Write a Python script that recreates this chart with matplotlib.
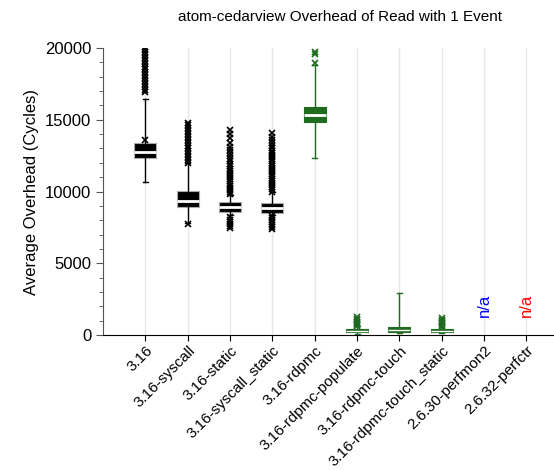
import matplotlib
matplotlib.use("Agg")
from matplotlib import pyplot as plt
from matplotlib.ticker import MultipleLocator

plt.rcParams['font.family'] = ['Liberation Sans', 'DejaVu Sans']

labels = ["3.16", "3.16-syscall", "3.16-static", "3.16-syscall_static",
          "3.16-rdpmc", "3.16-rdpmc-populate", "3.16-rdpmc-touch",
          "3.16-rdpmc-touch_static", "2.6.30-perfmon2", "2.6.32-perfctr"]

# box stats per kernel: whisker low, q1, median, q3, whisker high
whislo = [10680, 7830, 8360, 8360, 12310, 80, 150, 120]
q1 = [12360, 8940, 8600, 8520, 14820, 230, 240, 220]
med = [12770, 9360, 8940, 8870, 15330, 320, 380, 320]
q3 = [13360, 10060, 9250, 9200, 15870, 420, 540, 400]
whishi = [16420, 11960, 9760, 9940, 18820, 600, 2950, 550]

fliers = [
    [13590, 16900, 17100, 17300, 17500, 17700, 17900, 18100, 18300, 18500,
     18700, 18900, 19100, 19300, 19500, 19700, 19900, 20100],
    [7740, 12000, 12200, 12400, 12600, 12800, 13000, 13200, 13400, 13600,
     13800, 14000, 14200, 14400, 14600, 14750],
    [7430, 7600, 7750, 7900, 8050, 8200, 9800, 9950, 10100, 10250, 10400,
     10550, 10700, 10850, 11000, 11150, 11300, 11450, 11600, 11750, 11900,
     12100, 12300, 12500, 12700, 12900, 13100, 13400, 13700, 14000, 14290],
    [7390, 7550, 7700, 7850, 8000, 8150, 8300, 10000, 10150, 10300, 10450,
     10600, 10750, 10900, 11050, 11200, 11350, 11500, 11650, 11800, 11950,
     12100, 12250, 12400, 12550, 12700, 12850, 13000, 13200, 13400, 13600,
     13800, 14050],
    [18930, 19580, 19740],
    [620, 700, 780, 860, 940, 1020, 1100, 1230],
    [],
    [580, 660, 740, 820, 900, 980, 1060, 1160],
]

na_labels = ["2.6.30-perfmon2", "2.6.32-perfctr"]
na_colors = ["blue", "red"]

black = "black"
green = "#1f6b1f"
box_colors = [black] * 4 + [green] * 4
edge_colors = ["#aaaaaa"] * 4 + [green] * 4

fig = plt.figure(figsize=(5.54, 4.70), dpi=100)
ax = fig.add_axes([0.186, 0.287, 0.814, 0.611])

for i, c in enumerate(box_colors):
    stats = [dict(whislo=whislo[i], q1=q1[i], med=med[i], q3=q3[i],
                  whishi=whishi[i], fliers=fliers[i])]
    ax.bxp(stats, positions=[i], widths=0.52, patch_artist=True,
           boxprops=dict(facecolor=c, edgecolor=edge_colors[i], linewidth=0.8),
           medianprops=dict(color="white", linewidth=2 if i < 5 else 1),
           whiskerprops=dict(color=c, linewidth=1),
           capprops=dict(color=c, linewidth=1),
           capwidths=0.12,
           flierprops=dict(marker="x", markeredgecolor=c, markersize=5,
                           markeredgewidth=1.2),
           zorder=3)

for lab, col in zip(na_labels, na_colors):
    ax.text(labels.index(lab), 1250, "n/a", color=col, rotation=90,
            ha="center", va="bottom", fontsize=12)

ax.set_xlim(-1, 9.65)
ax.set_ylim(0, 20000)
ax.set_xticks(range(len(labels)))
ax.set_xticklabels(labels, rotation=45, ha="right", rotation_mode="anchor",
                   fontsize=11)
ax.yaxis.set_major_locator(MultipleLocator(5000))
ax.yaxis.set_minor_locator(MultipleLocator(1000))
ax.tick_params(axis="y", labelsize=12, length=5, color="#555555")
ax.tick_params(axis="y", which="minor", length=3, color="#555555")
ax.tick_params(axis="x", length=4, pad=2)
ax.xaxis.grid(True, color="#e6e6e6", linewidth=1, zorder=0)
ax.set_axisbelow(True)

ax.spines["top"].set_visible(False)
ax.spines["right"].set_visible(False)
ax.spines["left"].set_color("#555555")

ax.set_ylabel("Average Overhead (Cycles)", fontsize=12)
fig.text(0.613, 0.963, "atom-cedarview Overhead of Read with 1 Event",
         ha="center", va="center", fontsize=11)

fig.savefig("out.png", dpi=100)
